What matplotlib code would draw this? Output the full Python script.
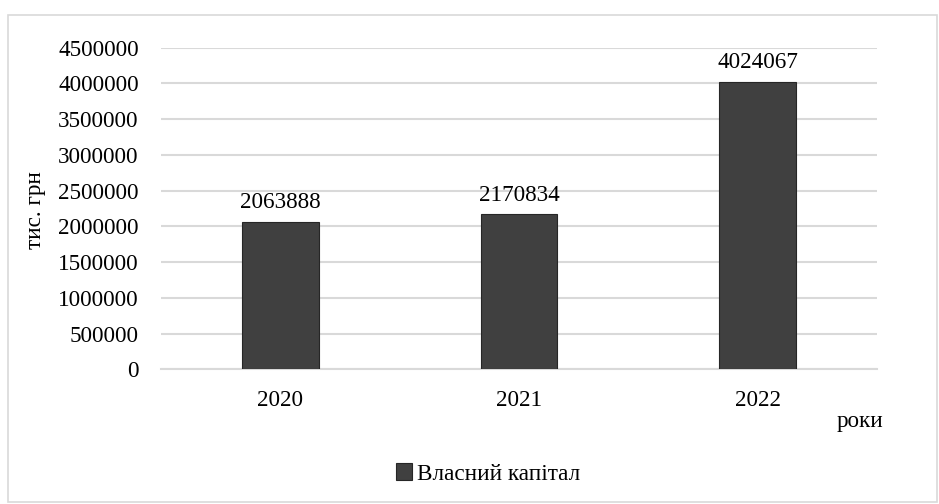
import matplotlib
matplotlib.use("Agg")
import matplotlib.pyplot as plt
from matplotlib.patches import Rectangle

years = ["2020", "2021", "2022"]
equity = [2063888, 2170834, 4024067]
y_ticks = list(range(0, 4500001, 500000))

plt.rcParams["font.family"] = ["Liberation Serif", "DejaVu Serif"]
FS = 16.7

W, H = 939, 504
fig = plt.figure(figsize=(W / 100, H / 100), dpi=100)
ax = fig.add_axes([161 / W, 1 - 369.3 / H, (877 - 161) / W, (369.3 - 47.7) / H])

# outer chart frame
fig.patches.append(Rectangle((8 / W, 1 - 502 / H), 929 / W, 487 / H,
                             transform=fig.transFigure, fill=False,
                             edgecolor="#d9d9d9", lw=1.2))

x = range(len(years))
bars = ax.bar(x, equity, width=0.32, color="#404040", edgecolor="#262626",
              lw=0.8, label="Власний капітал", zorder=3)
for b, v in zip(bars, equity):
    ax.annotate(str(v), (b.get_x() + b.get_width() / 2, v),
                xytext=(0, 6), textcoords="offset points",
                ha="center", va="bottom", fontsize=FS)

ax.set_xlim(-0.5, 2.5)
ax.set_ylim(0, 4500000)
ax.set_xticks(list(x))
ax.set_xticklabels(years, fontsize=FS)
ax.set_yticks(y_ticks)
ax.set_yticklabels([str(t) for t in y_ticks], fontsize=FS)
ax.tick_params(length=0)
ax.tick_params(axis="y", pad=16)
ax.tick_params(axis="x", pad=15)
ax.grid(axis="y", color="#d9d9d9", lw=1.5, zorder=0)
for s in ["top", "right", "left"]:
    ax.spines[s].set_visible(False)
ax.spines["bottom"].set_color("#d9d9d9")
ax.spines["bottom"].set_linewidth(1.5)

fig.text(35 / W, 1 - 210 / H, "тис. грн", rotation=90, ha="center",
         va="center", fontsize=FS)
fig.text(860 / W, 1 - 422 / H, "роки", ha="center", va="center", fontsize=FS)

fig.legend(loc="center", bbox_to_anchor=(488 / W, 1 - 474 / H), frameon=False,
           fontsize=FS, handlelength=0.7, handleheight=0.7, handletextpad=0.2)

fig.savefig("out.png", dpi=100)
